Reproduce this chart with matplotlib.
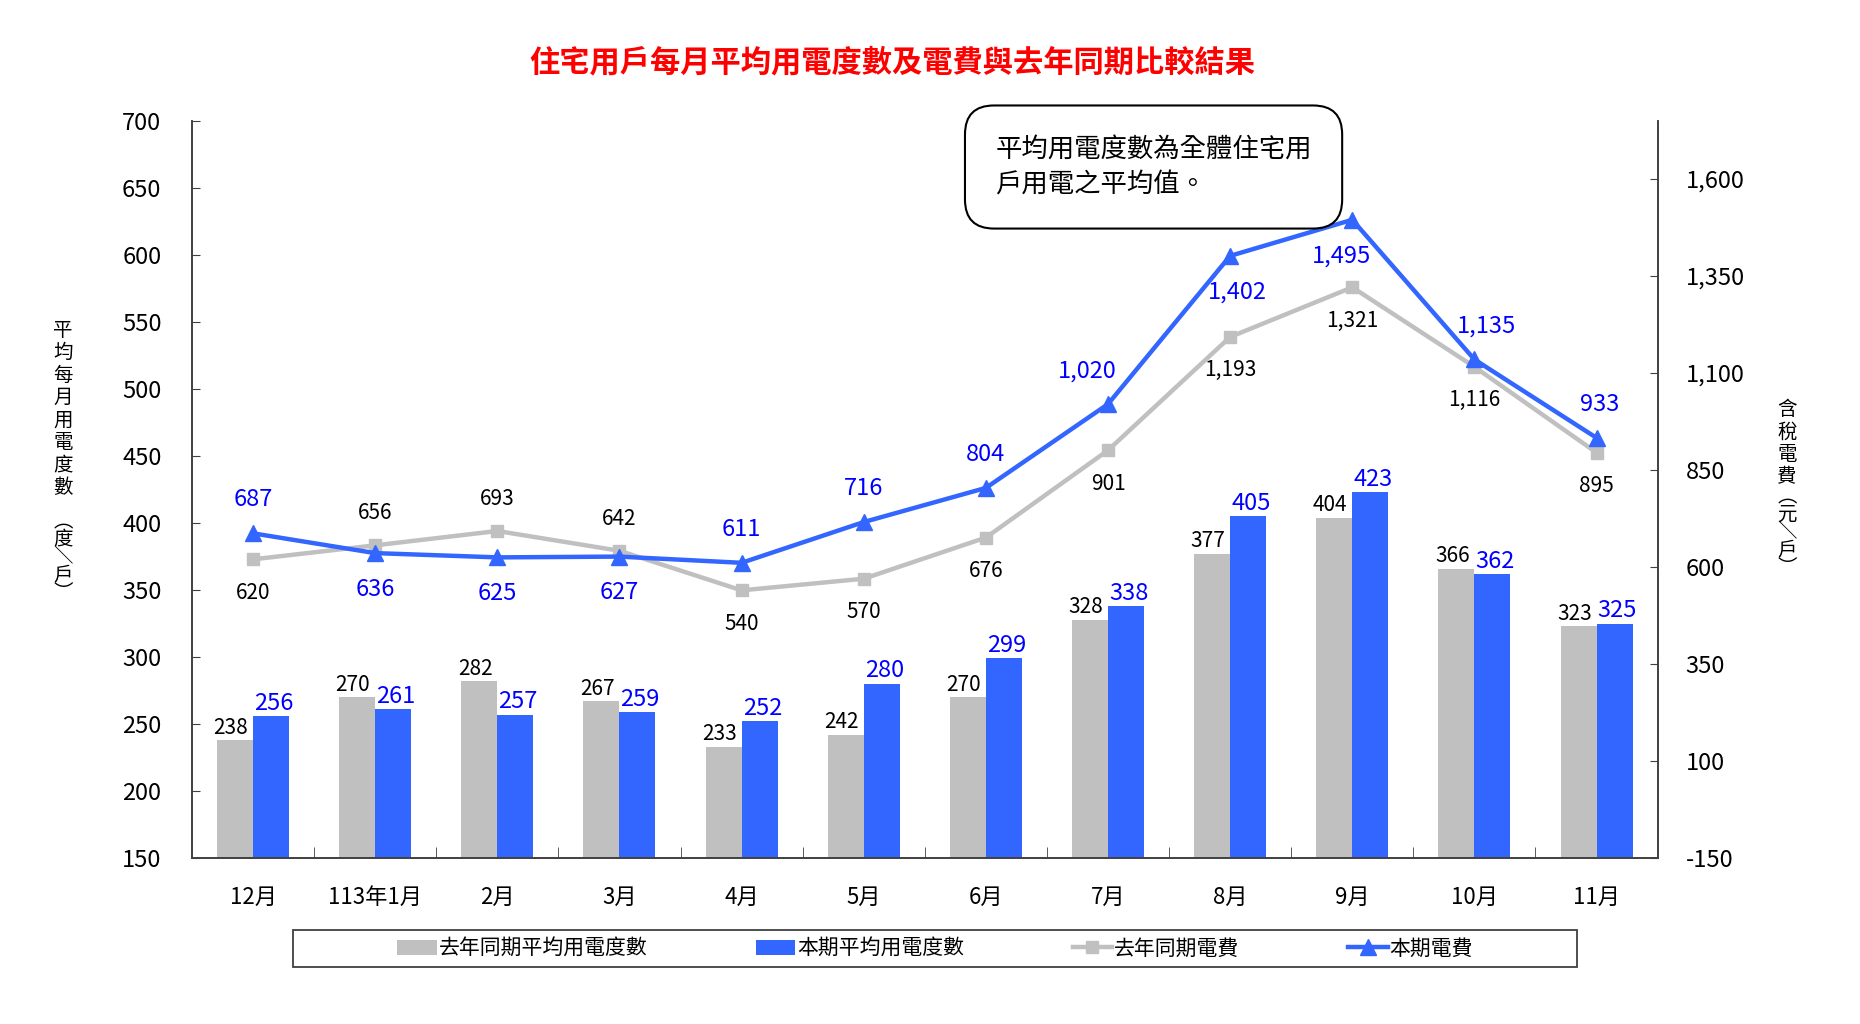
import numpy as np
import matplotlib
matplotlib.use('Agg')
import matplotlib.pyplot as plt
import matplotlib.ticker as mticker
from matplotlib.patches import Rectangle

plt.rcParams['font.family'] = ['Noto Sans CJK TC', 'DejaVu Sans']

months = ['12月', '113年1月', '2月', '3月', '4月', '5月', '6月', '7月', '8月', '9月', '10月', '11月']
kwh_last = [238, 270, 282, 267, 233, 242, 270, 328, 377, 404, 366, 323]
kwh_now = [256, 261, 257, 259, 252, 280, 299, 338, 405, 423, 362, 325]
bill_last = [620, 656, 693, 642, 540, 570, 676, 901, 1193, 1321, 1116, 895]
bill_now = [687, 636, 625, 627, 611, 716, 804, 1020, 1402, 1495, 1135, 933]
# where the line value labels sit relative to the point
bill_last_pos = ['below', 'above', 'above', 'above', 'below', 'below',
                 'below', 'below', 'below', 'below', 'below', 'below']
bill_now_pos = ['above', 'below', 'below', 'below', 'above', 'above',
                'above', 'above', 'below', 'below', 'above', 'above']
# sideways nudge (points) of the current-bill labels, as in the original
bill_now_dx = [0, 0, 0, 0, 0, 0, 0, -15, 5, -8, 9, 2]

GRAY = '#C0C0C0'
BLUE = '#3366FF'
LABEL_BLUE = '#0000FF'
AXIS = '#404040'

fig = plt.figure(figsize=(18.6, 10.24), dpi=100)
ax = fig.add_axes([0.1032, 0.162, 0.788, 0.720])
ax2 = ax.twinx()

x = np.arange(len(months))
w = 0.295
bars_last = ax.bar(x - w / 2, kwh_last, w, color=GRAY, zorder=2, label='去年同期平均用電度數')
bars_now = ax.bar(x + w / 2, kwh_now, w, color=BLUE, zorder=2, label='本期平均用電度數')

for i in range(len(months)):
    ax.annotate(str(kwh_last[i]), (x[i] - w / 2, kwh_last[i]), xytext=(-3, 1),
                textcoords='offset points', ha='center', va='bottom', fontsize=15, color='black')
    ax.annotate(str(kwh_now[i]), (x[i] + w / 2, kwh_now[i]), xytext=(2, 1),
                textcoords='offset points', ha='center', va='bottom', fontsize=17, color=LABEL_BLUE)

line_last, = ax2.plot(x, bill_last, color=GRAY, lw=3.2, marker='s', markersize=8, zorder=3,
                      label='去年同期電費')
line_now, = ax2.plot(x, bill_now, color=BLUE, lw=3.2, marker='^', markersize=11, zorder=4,
                     label='本期電費')

for i in range(len(months)):
    dy = 23 if bill_last_pos[i] == 'above' else -24
    ax2.annotate(f'{bill_last[i]:,}', (x[i], bill_last[i]), xytext=(0, dy),
                 textcoords='offset points', ha='center', va='center', fontsize=15, color='black')
    dy = 24 if bill_now_pos[i] == 'above' else -26
    ax2.annotate(f'{bill_now[i]:,}', (x[i], bill_now[i]), xytext=(bill_now_dx[i], dy),
                 textcoords='offset points', ha='center', va='center', fontsize=17, color=LABEL_BLUE)

ax.set_xlim(-0.5, len(months) - 0.5)
ax.set_ylim(150, 700)
ax.set_yticks(np.arange(150, 701, 50))
ax2.set_ylim(-150, 1750)
ax2.set_yticks(np.arange(-150, 1601, 250))
ax2.yaxis.set_major_formatter(mticker.FuncFormatter(lambda v, p: f'{int(v):,}'))

ax.set_xticks(x)
ax.set_xticklabels(months)
ax.set_xticks(np.arange(0.5, len(months) - 1, 1), minor=True)
ax.tick_params(axis='x', which='major', length=0, pad=20, labelsize=16)
ax.tick_params(axis='x', which='minor', length=8, direction='in', color=AXIS)
ax.tick_params(axis='y', length=6, direction='in', pad=22, labelsize=17, color=AXIS)
ax2.tick_params(axis='y', length=6, direction='in', pad=20, labelsize=17, color=AXIS)

for a in (ax, ax2):
    a.spines['top'].set_visible(False)
    for s in ('left', 'right', 'bottom'):
        a.spines[s].set_color(AXIS)
        a.spines[s].set_linewidth(1.2)

# vertical (stacked) axis titles: main words, then the unit in brackets
fig.text(0.0339, 1 - 409 / 1024, '\n'.join('平均每月用電度數'),
         ha='center', va='center', fontsize=14, linespacing=1.09)
fig.text(0.0339, 1 - 557 / 1024, '\n'.join('︵度＼戶︶'),
         ha='center', va='center', fontsize=14, linespacing=0.8)
fig.text(0.9608, 1 - 443 / 1024, '\n'.join('含稅電費'),
         ha='center', va='center', fontsize=14, linespacing=1.07)
fig.text(0.9608, 1 - 532 / 1024, '\n'.join('︵元＼戶︶'),
         ha='center', va='center', fontsize=14, linespacing=0.8)

fig.text(0.4796, 0.939, '住宅用戶每月平均用電度數及電費與去年同期比較結果',
         ha='center', va='center', fontsize=21.8, color='#FF0000', fontweight='bold')

fig.text(0.6202, 0.8369, '平均用電度數為全體住宅用\n戶用電之平均值。', ha='center', va='center',
         multialignment='left', fontsize=19, linespacing=1.4,
         bbox=dict(boxstyle='round,pad=1.15,rounding_size=1.1', fc='white', ec='black', lw=1.5))

leg = fig.legend(handles=[bars_last, bars_now, line_last, line_now], loc='center',
                 bbox_to_anchor=(0.5027, 0.0737), ncol=4, frameon=False, fontsize=15,
                 handlelength=1.9, handletextpad=0.1, columnspacing=5.2)
fig.patches.append(Rectangle((293 / 1860, 1 - 967 / 1024), (1577 - 293) / 1860, 37 / 1024,
                             transform=fig.transFigure, fill=False, ec=AXIS, lw=1.3))

fig.savefig('out.png', dpi=100)
